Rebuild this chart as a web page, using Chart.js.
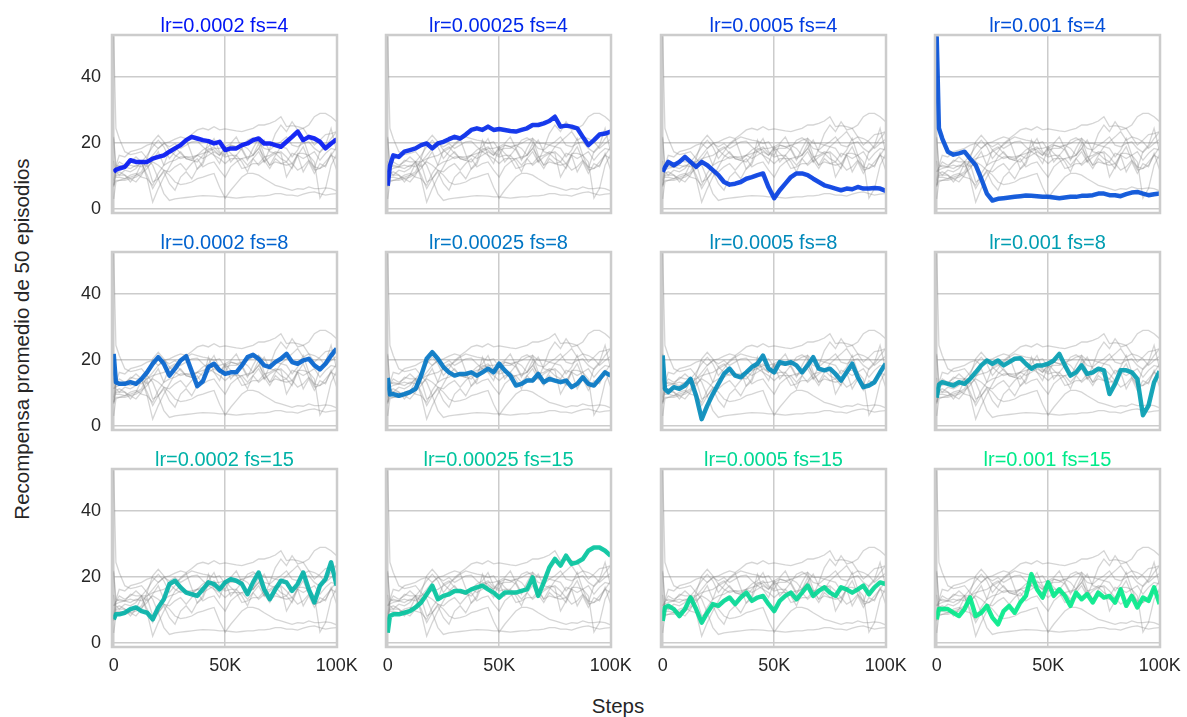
<!DOCTYPE html>
<html>
<head>
<meta charset="utf-8">
<script src="https://cdn.jsdelivr.net/npm/chart.js@4.4.1/dist/chart.umd.min.js"></script>
<style>
  body { margin: 0; background: #fff; width: 1187px; height: 717px; position: relative; overflow: hidden;
         font-family: "Liberation Sans", Arial, sans-serif; }
  canvas { position: absolute; }
  .sup { position: absolute; color: #262626; font-size: 20.5px; white-space: nowrap; transform: translate(-50%, -50%); }
  #ylab { transform: translate(-50%, -50%) rotate(-90deg); }
</style>
</head>
<body>
<div class="sup" id="xlab" style="left:618px; top:706px;">Steps</div>
<div class="sup" id="ylab" style="left:22px; top:339px;">Recompensa promedio de 50 episodios</div>
<script>
// training steps shared by every run
const steps = [0, 1000, 2500, 5000, 7500, 10000, 12500, 15000, 17500, 20000, 22500, 25000, 27500, 30000,
  32500, 35000, 37500, 40000, 42500, 45000, 47500, 50000, 52500, 55000, 57500, 60000, 62500, 65000,
  67500, 70000, 72500, 75000, 77500, 80000, 82500, 85000, 87500, 90000, 92500, 95000, 97500, 100000];

const learningRates = ['0.0002', '0.00025', '0.0005', '0.001'];
const frameSkips = [4, 8, 15];

// mean reward over the last 50 episodes, one array per run
const lr0002_fs4 = [11.2, 11.8, 12.2, 12.7, 14.7, 14.2, 14.2, 14.2, 15.2, 15.7, 16.2, 17.3, 18.3, 19.3, 20.8, 21.8,
  21.3, 20.8, 20.5, 19.8, 20.3, 17.8, 18.3, 18.3, 19.3, 19.8, 20.8, 21.3, 19.8, 19.8, 19.3, 18.8, 20.3, 21.8,
  23.4, 20.8, 21.8, 21.3, 20.3, 18.3, 19.8, 21.1];
const lr00025_fs4 = [7.0, 13.0, 16.2, 15.7, 17.3, 17.8, 18.3, 19.3, 19.8, 18.3, 19.8, 20.3, 21.1, 21.8, 21.3, 22.5,
  23.9, 24.4, 23.9, 24.9, 23.9, 24.2, 23.9, 23.6, 23.4, 23.9, 24.4, 25.4, 25.4, 25.9, 26.6, 27.9, 24.9, 25.2,
  24.9, 24.4, 21.8, 19.3, 20.8, 22.5, 22.8, 23.4];
const lr0005_fs4 = [11.2, 12.5, 14.2, 13.2, 14.2, 15.7, 14.2, 12.7, 14.2, 13.2, 11.7, 10.2, 8.1, 7.3, 7.6, 8.1,
  9.1, 9.6, 10.2, 10.7, 6.5, 3.2, 5.6, 7.6, 9.6, 10.7, 10.7, 10.2, 9.1, 8.1, 7.1, 6.6, 6.1, 5.6, 6.1, 5.9, 6.6,
  6.1, 6.1, 6.3, 6.1, 5.4];
const lr001_fs4 = [52.3, 24.4, 21.3, 17.3, 16.4, 16.8, 17.3, 15.2, 13.2, 9.1, 4.6, 2.5, 3.0, 3.2, 3.4, 3.6, 3.8,
  4.0, 3.9, 3.8, 3.6, 3.6, 3.4, 3.2, 3.4, 3.6, 3.6, 3.9, 3.9, 4.1, 4.6, 4.6, 4.1, 4.1, 3.8, 4.4, 4.9, 5.1, 4.6,
  4.1, 4.4, 4.6];
const lr0002_fs8 = [21.8, 13.2, 12.7, 12.7, 13.2, 12.7, 14.2, 16.2, 18.8, 20.8, 18.8, 15.2, 17.3, 19.8, 21.1, 16.5,
  12.0, 13.5, 17.8, 18.8, 16.8, 15.7, 16.2, 16.2, 18.3, 20.8, 21.5, 20.3, 18.3, 17.8, 19.3, 20.3, 21.8, 19.3,
  18.8, 19.8, 20.3, 18.3, 17.1, 18.8, 21.3, 23.4];
const lr00025_fs8 = [14.5, 9.5, 9.6, 9.1, 9.6, 10.2, 11.2, 15.2, 20.3, 22.3, 20.3, 17.8, 16.2, 15.2, 15.7, 15.7,
  16.2, 15.2, 16.2, 17.3, 16.2, 18.8, 16.8, 15.2, 12.2, 12.7, 13.7, 13.7, 15.7, 13.2, 14.2, 13.7, 13.2, 13.7,
  11.7, 12.7, 14.7, 12.7, 12.2, 14.2, 16.2, 15.2];
const lr0005_fs8 = [21.3, 11.2, 10.2, 11.7, 11.2, 12.2, 14.2, 9.1, 2.0, 6.1, 9.6, 12.7, 15.7, 17.3, 15.2, 14.7,
  16.2, 17.8, 18.8, 21.3, 17.3, 16.2, 19.3, 18.8, 19.3, 18.3, 16.2, 18.3, 20.8, 17.3, 16.8, 17.3, 15.7, 13.7,
  16.2, 18.8, 14.7, 11.7, 12.2, 13.2, 16.2, 18.8];
const lr001_fs8 = [8.5, 12.5, 13.2, 12.7, 12.2, 13.2, 12.7, 14.2, 16.2, 18.3, 19.8, 18.8, 19.8, 18.3, 19.3, 20.3,
  20.5, 18.8, 17.3, 18.3, 18.3, 18.8, 19.8, 21.8, 18.3, 15.2, 16.2, 18.3, 15.7, 16.2, 17.3, 16.8, 9.6, 12.7,
  16.8, 16.8, 16.2, 14.2, 3.2, 6.1, 13.2, 16.5];
const lr0002_fs15 = [7.1, 8.6, 8.6, 9.1, 10.2, 10.7, 9.6, 9.1, 7.1, 10.7, 13.2, 17.8, 18.8, 16.8, 15.2, 14.7, 14.2,
  16.2, 18.3, 17.8, 16.2, 18.3, 19.3, 18.8, 17.8, 14.7, 18.3, 21.3, 16.2, 13.2, 16.2, 18.8, 18.3, 15.7, 17.8,
  21.3, 16.2, 12.2, 17.3, 19.3, 24.4, 17.3];
const lr00025_fs15 = [3.0, 8.1, 8.6, 8.6, 9.1, 9.6, 10.7, 12.2, 14.7, 17.3, 13.2, 14.2, 14.7, 15.7, 15.7, 15.2,
  16.2, 16.8, 17.3, 16.2, 15.2, 13.7, 15.2, 15.2, 15.2, 15.7, 16.2, 19.8, 14.2, 18.3, 22.8, 25.4, 23.4, 26.4,
  23.9, 24.4, 25.4, 27.9, 28.9, 28.9, 27.9, 26.4];
const lr0005_fs15 = [6.6, 10.7, 11.2, 10.2, 8.1, 10.2, 13.7, 10.2, 6.1, 9.1, 11.7, 11.2, 12.7, 13.7, 11.7, 13.7,
  15.2, 12.7, 13.7, 14.2, 11.7, 9.6, 12.7, 14.2, 15.2, 13.2, 15.2, 17.3, 14.2, 15.7, 16.8, 15.2, 14.2, 16.8,
  16.2, 15.2, 16.2, 17.3, 14.7, 16.8, 18.3, 17.8];
const lr001_fs15 = [7.1, 10.2, 10.2, 10.2, 9.1, 8.1, 10.2, 13.7, 8.1, 9.1, 11.2, 7.6, 5.6, 9.6, 11.2, 9.1, 12.2,
  14.2, 20.8, 16.2, 13.7, 18.3, 14.2, 16.2, 14.2, 11.2, 15.2, 13.2, 14.7, 12.2, 15.2, 13.7, 14.2, 12.2, 16.2,
  11.2, 14.2, 10.7, 13.7, 12.7, 16.8, 11.7];

const runs = [
  lr0002_fs4, lr00025_fs4, lr0005_fs4, lr001_fs4,
  lr0002_fs8, lr00025_fs8, lr0005_fs8, lr001_fs8,
  lr0002_fs15, lr00025_fs15, lr0005_fs15, lr001_fs15
];

const yTicks = [0, 20, 40];
const xTicks = [0, 50000, 100000];
const xTickLabels = ['0', '50K', '100K'];

// panel geometry (plot frame of each subplot)
const frameLeft = [112, 386, 661, 935];
const frameTop = [35, 252, 469];
const frameW = 225, frameH = 178;
const padL = 50, padT = 32, padR = 30, padB = 36;

const fontFamily = '"Liberation Sans", Arial, sans-serif';
const gridColor = '#cccccc';
const textColor = '#262626';

// blue -> green ramp sampled away from both ends, one colour per run
function winter(i, n, alpha) {
  const t = (i + 1) / (n + 1);
  return `rgba(0, ${Math.round(255 * t)}, ${Math.round(255 - 127.5 * t)}, ${alpha})`;
}

// frame around the plot area plus the panel title
const panelFrame = {
  id: 'panelFrame',
  afterDatasetsDraw(chart, args, opts) {
    const { ctx, chartArea: a } = chart;
    ctx.save();
    ctx.strokeStyle = gridColor;
    ctx.lineWidth = 2.5;
    ctx.strokeRect(a.left, a.top, a.right - a.left, a.bottom - a.top);
    ctx.fillStyle = opts.color;
    ctx.font = '20px ' + fontFamily;
    ctx.textAlign = 'center';
    ctx.textBaseline = 'alphabetic';
    ctx.fillText(opts.text, (a.left + a.right) / 2, a.top - 3.5);
    ctx.restore();
  }
};

function points(values) {
  return values.map((v, i) => ({ x: steps[i], y: v }));
}

frameSkips.forEach((fs, row) => {
  learningRates.forEach((lr, col) => {
    const idx = row * 4 + col;

    const canvas = document.createElement('canvas');
    canvas.width = frameW + padL + padR;
    canvas.height = frameH + padT + padB;
    canvas.style.left = (frameLeft[col] - padL) + 'px';
    canvas.style.top = (frameTop[row] - padT) + 'px';
    document.body.appendChild(canvas);

    const datasets = runs.map(r => ({
      data: points(r),
      borderColor: 'rgba(128,128,128,0.33)',
      borderWidth: 1.3,
      pointRadius: 0,
      tension: 0,
      order: 1
    }));
    datasets.push({
      data: points(runs[idx]),
      borderColor: winter(idx, runs.length, 0.9),
      borderWidth: 4.5,
      borderJoinStyle: 'round',
      pointRadius: 0,
      tension: 0,
      order: 0
    });

    new Chart(canvas.getContext('2d'), {
      type: 'line',
      data: { datasets: datasets },
      options: {
        responsive: false,
        animation: false,
        events: [],
        layout: { padding: { left: 0, top: padT, right: padR, bottom: 0 } },
        plugins: {
          legend: { display: false },
          tooltip: { enabled: false },
          panelFrame: { text: `lr=${lr} fs=${fs}`, color: winter(idx, runs.length, 1) }
        },
        scales: {
          x: {
            type: 'linear',
            min: -750,
            max: 100150,
            afterFit: s => { s.height = padB; },
            afterBuildTicks: s => { s.ticks = xTicks.map(v => ({ value: v })); },
            border: { display: false },
            grid: { color: gridColor, lineWidth: 1.5, drawTicks: false },
            ticks: {
              display: row === 2,
              autoSkip: false,
              maxRotation: 0,
              padding: 8,
              color: textColor,
              font: { family: fontFamily, size: 18 },
              callback: (v, i) => xTickLabels[i]
            }
          },
          y: {
            min: -1.3,
            max: 52.7,
            afterFit: s => { s.width = padL; },
            afterBuildTicks: s => { s.ticks = yTicks.map(v => ({ value: v })); },
            border: { display: false },
            grid: { color: gridColor, lineWidth: 1.5, drawTicks: false },
            ticks: {
              display: col === 0,
              padding: 11,
              color: textColor,
              font: { family: fontFamily, size: 18 }
            }
          }
        }
      },
      plugins: [panelFrame]
    });
  });
});
</script>
</body>
</html>
